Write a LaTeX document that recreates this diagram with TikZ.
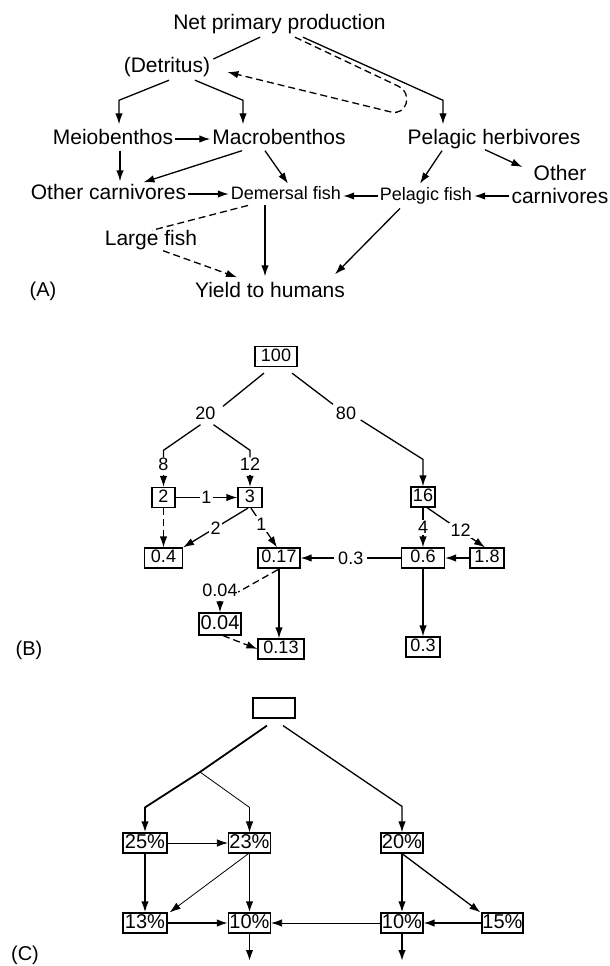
\documentclass[tikz,border=0pt]{standalone}
\usepackage{fontspec}
\setmainfont{Liberation Sans}
\usetikzlibrary{arrows.meta, calc}

\begin{document}
\begin{tikzpicture}[x=1pt, y=-1pt,
    lbl/.style={font=\fontsize{21}{23}\selectfont, inner sep=2pt, text height=15pt, text depth=4pt},
    fish/.style={font=\fontsize{18}{20}\selectfont, inner sep=2pt, text height=13pt, text depth=3.5pt},
    num/.style={font=\fontsize{18}{19}\selectfont, inner sep=0.5pt, text height=12.5pt, text depth=3.5pt},
    box/.style={draw, line width=1.2pt, font=\fontsize{18}{19}\selectfont, inner xsep=1pt, inner ysep=2pt, text height=12.5pt, text depth=3.5pt, minimum width=#1},
    box/.default=24pt,
    pct/.style={draw, line width=1.2pt, font=\fontsize{20}{22}\selectfont, inner sep=0pt, minimum width=44pt, minimum height=20pt, text height=14pt, text depth=3pt},
    tag/.style={font=\fontsize{20}{22}\selectfont, inner sep=0pt},
    flow/.style={-{Latex[length=11pt,width=7.5pt]}, line width=1.3pt},
    link/.style={line width=1.3pt},
    dflow/.style={flow, dash pattern=on 7pt off 4pt},
    dlink/.style={link, dash pattern=on 7pt off 4pt},
    onl/.style={fill=white, inner sep=1.5pt, font=\fontsize{18}{19}\selectfont}]

    \useasboundingbox (0,0) rectangle (610,966);

    % (A) food web
    \node[lbl] (npp) at (279.5,24) {Net primary production};
    \node[lbl] (det) at (167,67) {(Detritus)};
    \node[lbl] (meio) at (113,139) {Meiobenthos};
    \node[lbl] (macro) at (279,139) {Macrobenthos};
    \node[lbl] (ph) at (494,139) {Pelagic herbivores};
    \node[lbl] (ocl) at (108.5,194) {Other carnivores};
    \node[fish] (dem) at (286,195) {Demersal fish};
    \node[fish] (pf) at (426,196) {Pelagic fish};
    \node[font=\fontsize{21}{23}\selectfont, align=center, inner sep=2pt] (ocr) at (560,184) {Other\\carnivores};
    \node[lbl] (large) at (151,240) {Large fish};
    \node[lbl] (yield) at (270,292) {Yield to humans};
    \node[tag] (labA) at (43,291) {(A)};

    \draw[link] ($(npp.south)+(-19.5,1.5)$) -- ($(det.east)+(1,-8)$);
    \draw[flow] ($(npp.south)+(23.5,1.5)$) -- ($(ph.north)+(-51,-27)$) -- ($(ph.north)+(-51,-3)$);
    \draw[dflow] ($(npp.south)+(15.5,1.5)$) -- (398,86) .. controls (414,94) and (406,116) .. (391,112) -- ($(det.east)+(15,5)$);
    \draw[flow] ($(det.south)+(2,1.5)$) -- ($(meio.north)+(6,-27)$) -- ($(meio.north)+(6,-3)$);
    \draw[flow] ($(det.south)+(28,1.5)$) -- ($(macro.north)+(-36,-27)$) -- ($(macro.north)+(-36,-3)$);
    \draw[flow] (meio.east) -- (macro.west);
    \draw[flow] ($(meio.south)+(7,0)$) -- ($(ocl.north)+(11.5,-1)$);
    \draw[flow] ($(macro.south)+(-37,0)$) -- ($(ocl.north)+(35,0)$);
    \draw[flow] ($(macro.south)+(-14,0)$) -- ($(dem.north)+(2,-1)$);
    \draw[flow] (ocl.east) -- (ocl.east -| dem.west);
    \draw[flow] (pf.west) -- (pf.west -| dem.east);
    \draw[flow] (pf.east -| ocr.west) -- (pf.east);
    \draw[flow] ($(ph.south)+(-52,0)$) -- ($(pf.north)+(-6,-2)$);
    \draw[flow] ($(ph.south)+(-9,-1)$) -- ($(ocr.west)+(13,-17)$);
    \draw[dlink] ($(dem.south)+(-38,0)$) -- ($(large.north)+(1,2)$);
    \draw[dflow] ($(large.south)+(12,-1)$) -- ($(yield.north)+(-33,-3)$);
    \draw[flow] ($(dem.south)+(-21,0)$) -- ($(yield.north)+(-5,-4)$);
    \draw[flow] ($(pf.south)+(-26,2)$) -- ($(yield.north)+(65,-6)$);

    % (B) energy flow
    \node[box=42pt] (n100) at (276,356.5) {100};
    \node[num] (l20) at (205.5,415) {20};
    \node[num] (l80) at (346,415) {80};
    \node[num] (l8) at (163.5,466) {8};
    \node[num] (l12) at (250,466) {12};
    \node[box=23pt] (b2) at (163.5,497.5) {2};
    \node[box=24pt] (b3) at (250,497.5) {3};
    \node[box=24pt] (b16) at (423,497) {16};
    \node[box=38pt] (b04) at (163.5,558) {0.4};
    \node[box=42pt] (b017) at (279,558) {0.17};
    \node[box=43pt] (b06) at (423,558) {0.6};
    \node[box=34pt] (b18) at (487,558) {1.8};
    \node[num] (l004) at (220,592) {0.04};
    \node[box=42pt, font=\fontsize{20}{22}\selectfont, text height=14.5pt] (b004) at (220,624) {0.04};
    \node[box=46pt] (b013) at (281,649) {0.13};
    \node[box=34pt] (b03) at (423,647) {0.3};
    \node[tag] (labB) at (29,650) {(B)};

    \draw[link] ($(n100.south)+(-12,6)$) -- ($(l20.north)+(17.5,0)$);
    \draw[link] ($(n100.south)+(16,6)$) -- ($(l80.north)+(-13,-2)$);
    \draw[flow] ($(l80.east)+(4,5)$) -- ($(b16.north)+(0,-27)$) -- (b16.north);
    \draw[link] ($(l20.south)+(-5,1)$) -- ($(l8.north)+(0,-7)$) -- (l8.north);
    \draw[link] ($(l20.south)+(8,1)$) -- ($(l12.north)+(0,-7)$) -- (l12.north);
    \draw[flow] (l8) -- (b2);
    \draw[flow] (l12) -- (b3);
    \draw[flow] (b2) -- node[onl]{1} (b3);
    \draw[dflow] (b2) -- (b04);
    \draw[flow] ($(b3.south)+(-2,0)$) -- node[onl]{2} (b04.north east);
    \draw[flow] ($(b3.south)+(1,0)$) -- node[onl, pos=0.4]{1} ($(b017.north)+(-2,0)$);
    \draw[flow] (b16) -- node[onl]{4} (b06);
    \draw[flow] ($(b16.south)+(4,0)$) -- node[onl, pos=0.58]{12} ($(b18.north)+(-2,0)$);
    \draw[flow] (b18) -- (b06);
    \draw[flow] (b06) -- node[onl, inner xsep=4pt]{0.3} (b017);
    \draw[flow] (b06) -- (b03);
    \draw[flow] (b017.south) -- (b017.south |- b013.north);
    \draw[dlink] ($(b017.south)+(-1,1)$) -- (l004.east);
    \draw[flow] (l004) -- (b004);
    \draw[dflow] ($(b004.south)+(3,0)$) -- (b013.west);

    % (C) transfer efficiencies
    \node[pct, minimum width=42pt] (ctop) at (274,708) {};
    \node[pct] (c25) at (145,843) {25\%};
    \node[pct, minimum width=42pt] (c23) at (249.5,843) {23\%};
    \node[pct, minimum width=42pt] (c20) at (402,843) {20\%};
    \node[pct] (c13) at (145,923) {13\%};
    \node[pct, minimum width=42pt] (c10a) at (249.5,923) {10\%};
    \node[pct, minimum width=42pt] (c10b) at (402,923) {10\%};
    \node[pct, minimum width=41pt] (c15) at (502.5,923) {15\%};
    \node[tag] (labC) at (25,955) {(C)};
    \coordinate (cj) at (200,772);
    \coordinate (outa) at (249.5,961);
    \coordinate (outb) at (402,961);

    \draw[flow, line width=1.8pt] ($(ctop.south)+(-7,7)$) -- (cj) -- ($(c25.north)+(0,-25)$) -- (c25.north);
    \draw[flow, line width=0.8pt] (cj) -- ($(c23.north)+(0,-25)$) -- (c23.north);
    \draw[flow] ($(ctop.south)+(9,7)$) -- ($(c20.north)+(0,-26)$) -- (c20.north);
    \draw[flow, line width=0.8pt] (c25) -- (c23);
    \draw[flow, line width=1.7pt] (c25) -- (c13);
    \draw[flow, line width=0.8pt] ($(c23.south)+(-1,0)$) -- ($(c13.north east)+(2,0)$);
    \draw[flow, line width=1.7pt] (c23) -- (c10a);
    \draw[flow, line width=1.7pt] (c20) -- (c10b);
    \draw[flow] (c20.south) -- ($(c15.north west)+(-1,0)$);
    \draw[flow, line width=1.7pt] (c13) -- (c10a);
    \draw[flow, line width=0.8pt] (c10b) -- (c10a);
    \draw[flow, line width=1.5pt] (c15) -- (c10b);
    \draw[flow, line width=1.7pt] (c10a) -- (outa);
    \draw[flow, line width=1.7pt] (c10b) -- (outb);
\end{tikzpicture}
\end{document}
